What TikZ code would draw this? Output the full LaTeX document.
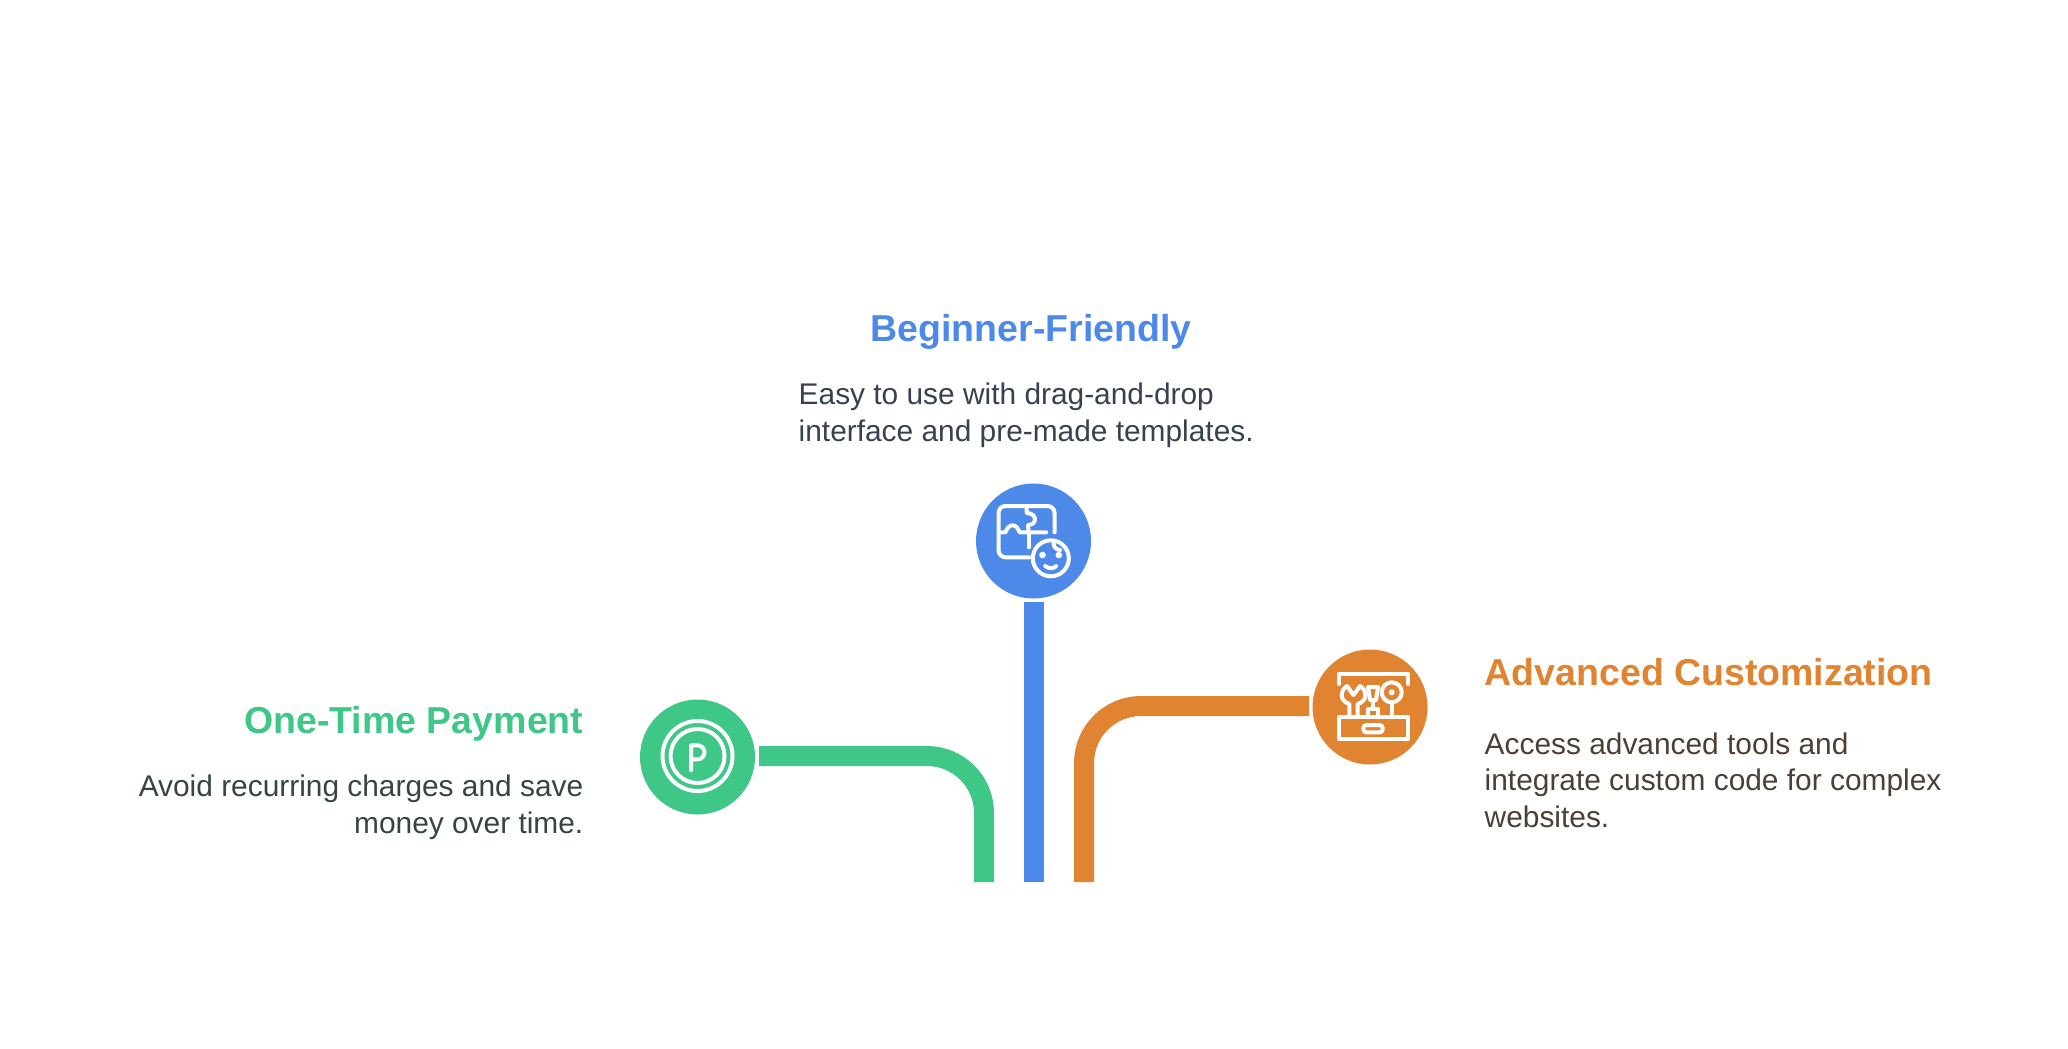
\documentclass[tikz,border=0pt]{standalone}
\usepackage{fontspec}
\setmainfont{Liberation Sans}
\usetikzlibrary{positioning}
\definecolor{bluec}{HTML}{4D89E8}
\definecolor{greenc}{HTML}{3EC787}
\definecolor{orangec}{HTML}{E08431}
\definecolor{bluetxt}{HTML}{374151}
\definecolor{greentxt}{HTML}{36453F}
\definecolor{orangetxt}{HTML}{4B3F36}
\tikzset{
  heading/.style={font=\fontsize{10.67}{12}\selectfont\bfseries,inner sep=0pt},
  body/.style={font=\fontsize{8.5}{10.25}\selectfont,inner sep=0pt},
  disc/.style={circle,minimum size=1.15cm,inner sep=0pt},
  bar/.style={line width=0.2cm},
  glyph/.style={draw=white,line width=0.04cm,line cap=round,line join=round},
}
\begin{document}
\begin{tikzpicture}
        \useasboundingbox (0,0) rectangle (20.68,-10.48);
        % circles
        \node[disc,fill=bluec] (friendly) at (10.335,-5.41) {};
        \node[disc,fill=greenc] (payment) at (6.975,-7.57) {};
        \node[disc,fill=orangec] (custom) at (13.70,-7.07) {};
        % bars
        \coordinate (friendlyend) at (10.34,-8.82);
        \coordinate (paymentend) at (9.84,-8.82);
        \coordinate (customend) at (10.84,-8.82);
        \coordinate (paymentstart) at (7.59,-7.56);
        \coordinate (customstart) at (13.09,-7.06);
        \draw[bar,bluec] (10.34,-6.02) -- (friendlyend);
        \draw[bar,greenc] (paymentstart) -- (9.27,-7.56) arc (90:0:0.57) -- (paymentend);
        \draw[bar,orangec] (customstart) -- (11.41,-7.06) arc (90:180:0.57) -- (customend);
        % puzzle and face
        \begin{scope}[shift={(friendly)}]
          \draw[glyph] (-0.04,-0.163) -- (-0.28,-0.163) arc (270:180:0.07) -- (-0.35,0.28) arc (180:90:0.07) -- (0.14,0.35) arc (90:0:0.07) -- (0.21,0.087);
          \draw[glyph] (-0.34,0.087) -- (-0.28,0.087) .. controls (-0.25,0.18) and (-0.17,0.18) .. (-0.14,0.087) -- (0.127,0.087);
          \draw[glyph] (-0.05,-0.063) -- (-0.05,0.087);
          \draw[glyph] (-0.07,0.345) -- (-0.07,0.28) .. controls (0.04,0.28) and (0.04,0.16) .. (-0.055,0.16) -- (-0.05,0.087);
          \draw[glyph] (0.173,-0.173) circle (0.18);
          \fill[white] (0.09,-0.14) circle (0.033) (0.253,-0.14) circle (0.033);
          \draw[glyph] (0.117,-0.25) .. controls (0.15,-0.28) and (0.2,-0.28) .. (0.227,-0.25);
          \draw[glyph] (0.2,-0.023) .. controls (0.2,-0.06) and (0.23,-0.09) .. (0.267,-0.09);
        \end{scope}
        % coin
        \begin{scope}[shift={(payment)}]
          \draw[glyph] (0,0.01) circle (0.35);
          \draw[glyph] (0,0.01) circle (0.27);
          \draw[glyph] (-0.063,-0.13) -- (-0.063,0.117) -- (0,0.117) arc (90:-90:0.07) -- (-0.063,-0.023);
        \end{scope}
        % toolbox
        \begin{scope}[shift={(custom)}]
          \draw[glyph] (-0.313,0.23) -- (-0.313,0.33) -- (0.383,0.33) -- (0.383,0.23);
          \draw[glyph] (-0.313,-0.103) rectangle (0.383,-0.32);
          \draw[glyph,rounded corners=0.03cm] (-0.067,-0.18) rectangle (0.127,-0.253);
          \draw[glyph] (-0.207,-0.103) -- (-0.207,0.03) .. controls (-0.31,0.06) and (-0.3,0.17) .. (-0.23,0.21) -- (-0.165,0.12) -- (-0.1,0.21) .. controls (-0.03,0.17) and (-0.02,0.06) .. (-0.123,0.03) -- (-0.123,-0.103);
          \draw[glyph] (0.03,-0.02) -- (0.03,0.07);
          \draw[glyph] (-0.02,-0.103) -- (-0.02,-0.02) -- (0.08,-0.02) -- (0.08,-0.103);
          \draw[glyph] (-0.02,0.2) -- (0.08,0.2) -- (0.06,0.07) -- (0,0.07) -- cycle;
          \draw[glyph] (0.217,-0.103) -- (0.217,0.05);
          \draw[glyph] (0.217,0.147) circle (0.1);
          \fill[white] (0.217,0.147) circle (0.03);
        \end{scope}
        % texts
        \node[heading,text=bluec,anchor=base] (friendlyhead) at (10.31,-3.41) {Beginner-Friendly};
        \node[body,text=bluetxt,anchor=base west,align=left] (friendlytext) at (7.98,-4.41) {Easy to use with drag-and-drop\\interface and pre-made templates.};
        \node[heading,text=greenc,anchor=base east] (paymenthead) at (5.84,-7.33) {One-Time Payment};
        \node[body,text=greentxt,anchor=base east,align=right] (paymenttext) at (5.84,-8.33) {Avoid recurring charges and save\\money over time.};
        \node[heading,text=orangec,anchor=base west] (customhead) at (14.84,-6.85) {Advanced Customization};
        \node[body,text=orangetxt,anchor=base west,align=left] (customtext) at (14.84,-8.27) {Access advanced tools and\\integrate custom code for complex\\websites.};
      \end{tikzpicture}
\end{document}
